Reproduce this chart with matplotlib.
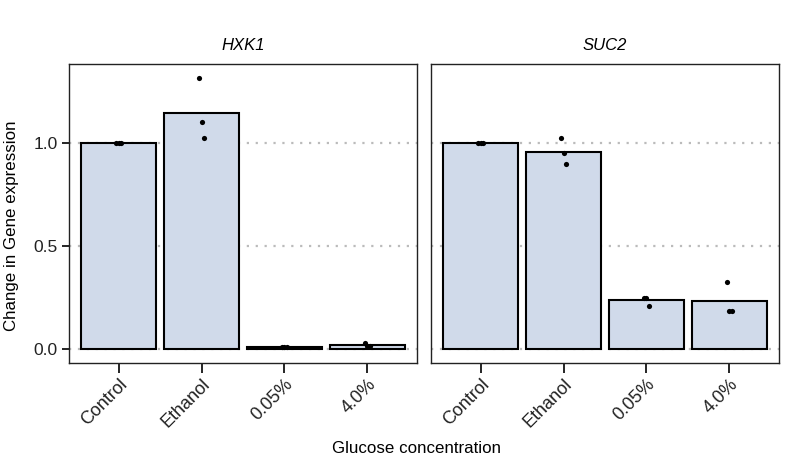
import matplotlib
matplotlib.use("Agg")
import matplotlib.pyplot as plt
import numpy as np

plt.rcParams['font.family'] = ['Liberation Sans', 'DejaVu Sans']

genes = ['HXK1', 'SUC2']
conditions = ['Control', 'Ethanol', '0.05%', '4.0%']

# replicate values (fold change) per gene, per condition
hxk1_reps = [[1.0, 1.0, 1.0],
             [1.317, 1.103, 1.028],
             [0.012, 0.012, 0.012],
             [0.032, 0.015, 0.015]]
suc2_reps = [[1.0, 1.0, 1.0],
             [1.027, 0.956, 0.898],
             [0.252, 0.252, 0.212],
             [0.329, 0.186, 0.186]]
reps = {'HXK1': hxk1_reps, 'SUC2': suc2_reps}
# small horizontal jitter of the replicate dots
jitter = [-0.03, 0.0, 0.03]

bar_color = '#D0DAEA'

fig = plt.figure(figsize=(7.92, 4.61), dpi=100)
W, H = 792, 461
panels = [(69, 417), (431, 779)]
top, bottom = 64, 363

x = np.arange(len(conditions))
for i, g in enumerate(genes):
    l, r = panels[i]
    ax = fig.add_axes([l / W, 1 - bottom / H, (r - l) / W, (bottom - top) / H])
    vals = reps[g]
    means = [np.mean(v) for v in vals]
    for y in [0.0, 0.5, 1.0]:
        ax.axhline(y, color='#BBBBBB', lw=1.6, ls=(0, (1, 3)), zorder=0)
    ax.bar(x, means, width=0.9, color=bar_color, edgecolor='black', lw=1.5, zorder=2)
    for xi, v in zip(x, vals):
        ax.scatter(xi + np.array(jitter[:len(v)]), v, s=14, color='black', zorder=3,
                   linewidths=0)
    ax.set_xlim(-0.6, len(conditions) - 0.4)
    ax.set_ylim(-0.066, 1.386)
    ax.set_xticks(x)
    ax.set_xticklabels(conditions, rotation=45, ha='right', rotation_mode='anchor',
                       fontsize=13, color='#222222')
    ax.set_yticks([0.0, 0.5, 1.0])
    if i == 0:
        ax.set_yticklabels(['0.0', '0.5', '1.0'], fontsize=12.5, color='#222222')
        ax.tick_params(axis='y', length=5, width=1.2, pad=3)
    else:
        ax.tick_params(axis='y', length=0, labelleft=False)
    ax.tick_params(axis='x', length=7, width=1.2, pad=2)
    for s in ax.spines.values():
        s.set_linewidth(1.0)
        s.set_color('#222222')
    ax.set_title(g, fontsize=12, style='italic', pad=10)

fig.text(416 / W, 1 - 448 / H, 'Glucose concentration', ha='center', va='center', fontsize=12.2)
fig.text(12 / W, 1 - 226 / H, 'Change in Gene expression', ha='center', va='center',
         rotation=90, fontsize=12.2)

fig.savefig('out.png', dpi=100)
